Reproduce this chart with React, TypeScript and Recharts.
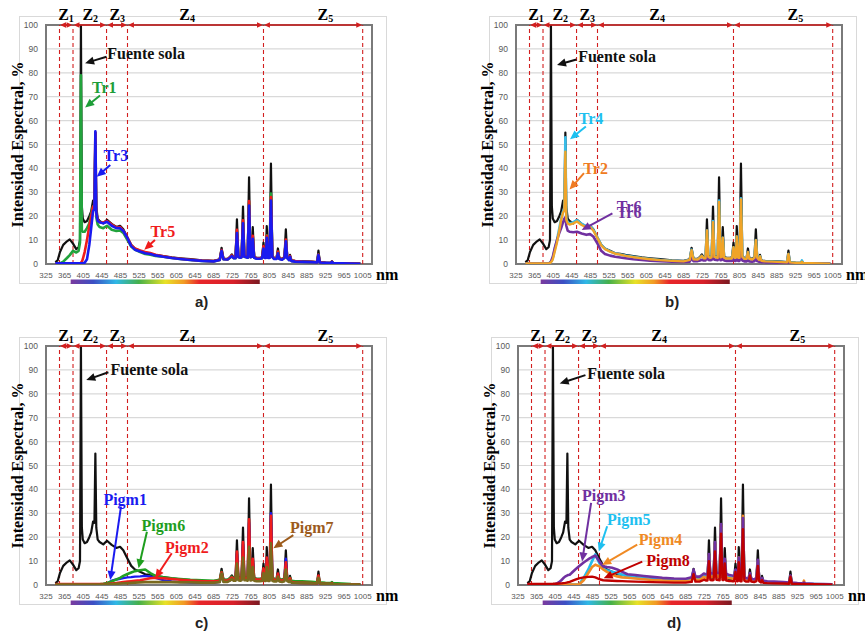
import { LineChart, Line, XAxis, YAxis, CartesianGrid, ReferenceLine, ReferenceDot, ReferenceArea } from 'recharts';

// wavelength grid, nm
const wl = [
  345, 350, 355, 362, 370, 376, 383, 390, 395, 398,
  400, 402, 404, 408, 413, 418, 422, 426, 429, 431,
  433, 436, 440, 448, 456, 466, 476, 484, 491, 500,
  508, 516, 527, 538, 549, 560, 577, 595, 613, 635,
  660, 685, 698, 702, 706, 715, 720, 724, 728, 732,
  735, 738, 742, 745, 748, 751, 755, 758, 761, 764,
  767, 769, 772, 777, 784, 789, 792, 795, 797, 799,
  802, 805, 808, 811, 815, 820, 823, 826, 832, 837,
  840, 843, 847, 849, 852, 860, 875, 895, 907, 910,
  913, 925, 937, 939, 941, 960, 980, 1000,
];

const fuenteSola = [
  0.8, 1.5, 5, 8, 9.5, 10.3, 8.5, 6.2, 7, 10,
  100, 24, 19, 17.5, 18, 20, 22, 26.5, 26, 55,
  24, 19, 18, 17, 18.5, 16.8, 15.5, 16, 14.5, 11,
  8, 6.5, 5.5, 4.5, 4.3, 3.8, 3.3, 2.8, 2.4, 2,
  1.5, 1.3, 2, 6.8, 2.3, 2.2, 3, 4, 2.8, 2.8,
  18.7, 3.5, 3, 3.2, 24, 3.5, 3.2, 3, 36.3, 3.3,
  3.5, 15.4, 3, 2.6, 2.6, 2.8, 8.9, 3, 3, 15.9,
  3, 3, 42, 3.5, 2.5, 2.5, 6.5, 2.5, 2.2, 3,
  14.5, 3, 2, 3.8, 1.5, 1.3, 1.2, 1, 0.8, 5.6,
  0.8, 0.6, 0.5, 1.2, 0.5, 0.4, 0.3, 0.2,
];

const tr1 = [
  0, 0, 0.3, 1, 2.5, 3.7, 5.5, 4.8, 5.5, 9,
  79, 14, 13.5, 13.5, 15, 17, 21, 24, 23.5, 50,
  19.5, 16.5, 15.5, 15, 16, 14.3, 13.8, 14, 13, 10,
  7.3, 6, 5, 4.2, 3.9, 3.4, 3, 2.5, 2.1, 1.7,
  1.3, 1.1, 1.7, 5.5, 2, 1.9, 2.6, 3.4, 2.4, 2.4,
  13.5, 3, 2.6, 2.8, 17.5, 3, 2.8, 2.6, 25.5, 2.8,
  3, 11.5, 2.6, 2.3, 2.3, 2.4, 7, 2.6, 2.6, 12,
  2.6, 2.6, 29.5, 3, 2.2, 2.2, 5, 2.2, 1.9, 2.6,
  9.8, 2.6, 1.7, 3.2, 1.3, 1.1, 1, 0.8, 0.7, 4,
  0.7, 0.5, 0.4, 1, 0.4, 0.3, 0.2, 0.1,
];

const tr5 = [
  0.2, 0.2, 0.2, 0.2, 0.2, 0.2, 0.2, 0.2, 0.2, 0.2,
  0.5, 1, 2, 5, 10, 16, 20, 24, 24, 55,
  21, 18.5, 17.5, 17.3, 18, 16.5, 15.3, 15.5, 14, 11,
  7.8, 6.5, 5.7, 5, 4.6, 3.9, 3.2, 2.6, 2.2, 1.8,
  1.4, 1.2, 1.8, 5.8, 2.1, 2, 2.8, 3.6, 2.6, 2.6,
  14.3, 3.1, 2.8, 3, 18.3, 3.2, 3, 2.8, 26.3, 3,
  3.2, 11.8, 2.8, 2.4, 2.4, 2.6, 7.5, 2.7, 2.7, 11.8,
  2.7, 2.7, 28, 3.1, 2.3, 2.3, 5.2, 2.3, 2, 2.7,
  10.2, 2.7, 1.8, 3.3, 1.4, 1.2, 1, 0.9, 0.7, 4,
  0.7, 0.5, 0.4, 1, 0.4, 0.3, 0.2, 0.1,
];

const tr3 = [
  0.3, 0.3, 0.3, 0.3, 0.3, 0.3, 0.3, 0.3, 0.3, 0.3,
  0.3, 0.3, 0.3, 0.5, 2, 8, 15, 22, 23, 55.5,
  21.5, 18, 17.5, 17, 17.7, 16, 15, 15, 13.8, 10.8,
  7.5, 6, 5.2, 4.5, 4.2, 3.6, 3, 2.5, 2.1, 1.7,
  1.3, 1.1, 1.7, 5.5, 2, 1.9, 2.6, 3.3, 2.4, 2.4,
  13, 2.9, 2.6, 2.8, 17, 3, 2.8, 2.6, 24.5, 2.8,
  3, 10.5, 2.6, 2.2, 2.2, 2.4, 6.5, 2.5, 2.5, 11,
  2.5, 2.5, 26.5, 2.9, 2.1, 2.1, 4.5, 2.1, 1.8, 2.5,
  9.5, 2.5, 1.6, 3, 1.2, 1, 0.9, 0.8, 0.6, 3.8,
  0.6, 0.5, 0.4, 0.9, 0.4, 0.3, 0.2, 0.1,
];

const tr4 = [
  0.3, 0.3, 0.3, 0.3, 0.3, 0.3, 0.3, 0.3, 0.3, 0.5,
  1, 1.5, 2.5, 6, 10, 15, 19, 22, 23, 53,
  19, 17.5, 17, 17.5, 18.3, 16.8, 15.8, 16, 14.3, 11,
  8, 6.4, 5.3, 4.4, 4, 3.5, 3, 2.5, 2.1, 1.7,
  1.3, 1.1, 1.7, 6, 2, 1.9, 2.6, 3.4, 2.4, 2.4,
  14, 3, 2.6, 2.8, 18, 3, 2.8, 2.6, 26.5, 2.8,
  3, 11, 2.6, 2.3, 2.3, 2.4, 7, 2.6, 2.6, 11.5,
  2.6, 2.6, 27.5, 3, 2.2, 2.2, 5, 2.2, 1.9, 2.6,
  10, 2.6, 1.7, 3.2, 1.3, 1.1, 1, 0.8, 0.7, 4.2,
  0.7, 0.5, 0.4, 1.5, 0.4, 0.3, 0.2, 0.1,
];

const tr2 = [
  0.2, 0.2, 0.2, 0.2, 0.2, 0.2, 0.2, 0.2, 0.2, 0.4,
  0.8, 1.2, 2, 5, 9, 14, 18.5, 21.5, 22.5, 47,
  18.5, 17, 16.5, 17, 17.8, 16.3, 15.3, 15.5, 14, 10.8,
  7.8, 6.2, 5.2, 4.3, 3.9, 3.4, 2.9, 2.4, 2, 1.6,
  1.3, 1.1, 1.7, 5.8, 2, 1.9, 2.6, 3.4, 2.4, 2.4,
  14, 3, 2.6, 2.8, 17.5, 3, 2.8, 2.6, 26, 2.8,
  3, 11, 2.6, 2.3, 2.3, 2.4, 7, 2.6, 2.6, 11.5,
  2.6, 2.6, 27, 3, 2.2, 2.2, 5, 2.2, 1.9, 2.6,
  10, 2.6, 1.7, 3.2, 1.3, 1.1, 1, 0.8, 0.7, 4.2,
  0.7, 0.5, 0.4, 0.9, 0.4, 0.3, 0.2, 0.1,
];

const tr6 = [
  0.2, 0.2, 0.2, 0.2, 0.2, 0.2, 0.2, 0.2, 0.2, 0.5,
  1, 2, 3, 6.5, 10, 13, 15, 17.5, 19, 19.5,
  16, 14, 13.5, 13.3, 13.5, 12.8, 12.2, 12.5, 11.5, 8.5,
  5.5, 4.2, 3.5, 3, 2.7, 2.4, 2, 1.7, 1.4, 1.2,
  1, 0.9, 1, 2.5, 1.2, 1.2, 1.5, 1.8, 1.5, 1.5,
  3.5, 1.7, 1.6, 1.7, 4, 1.8, 1.7, 1.6, 5, 1.6,
  1.7, 2.5, 1.5, 1.3, 1.3, 1.3, 2, 1.3, 1.3, 2.5,
  1.3, 1.3, 5, 1.4, 1.1, 1.1, 1.5, 1.1, 1, 1.2,
  2.5, 1.2, 0.9, 1.2, 0.8, 0.7, 0.6, 0.5, 0.4, 1.2,
  0.4, 0.3, 0.3, 0.4, 0.3, 0.2, 0.1, 0.1,
];

const pigm1 = [
  0.3, 0.3, 0.3, 0.3, 0.3, 0.3, 0.3, 0.3, 0.3, 0.3,
  0.3, 0.3, 0.3, 0.3, 0.3, 0.3, 0.3, 0.3, 0.3, 0.3,
  0.3, 0.3, 0.3, 0.3, 0.6, 1.8, 2.3, 2.6, 2.9, 3.2,
  3.3, 3.5, 3.6, 3.8, 3.5, 3, 2, 1.5, 1.2, 1,
  0.9, 0.9, 1.3, 5, 1.5, 1.5, 2, 2.6, 2, 2,
  13, 2.4, 2.2, 2.3, 17, 2.5, 2.4, 2.3, 26, 2.4,
  2.5, 10.5, 2.2, 1.9, 1.9, 2, 6.5, 2.1, 2.1, 11,
  2.1, 2.1, 30, 2.5, 1.8, 1.8, 4.5, 1.8, 1.6, 2.2,
  11, 2.2, 1.4, 2.6, 1.1, 0.9, 0.8, 0.7, 0.5, 3.5,
  0.5, 0.4, 0.3, 0.8, 0.3, 0.2, 0.2, 0.1,
];

const pigm6 = [
  0.3, 0.3, 0.3, 0.3, 0.3, 0.3, 0.3, 0.3, 0.3, 0.3,
  0.3, 0.3, 0.3, 0.3, 0.3, 0.3, 0.3, 0.3, 0.3, 0.3,
  0.3, 0.3, 0.3, 0.5, 0.8, 1.5, 2.3, 3, 3.8, 4.6,
  5.2, 5.8, 6.2, 6.5, 5, 3.8, 3.2, 2.8, 2.5, 2.2,
  2, 1.8, 2.2, 5.5, 2.3, 2.2, 2.8, 3.5, 2.7, 2.7,
  9, 3, 2.8, 3, 12, 3.1, 3, 2.8, 16.5, 3,
  3.2, 8, 2.8, 2.5, 2.5, 2.6, 5.5, 2.7, 2.7, 8,
  2.7, 2.7, 18, 3, 2.4, 2.4, 4, 2.4, 2.2, 2.6,
  7, 2.6, 2, 3, 1.8, 1.6, 1.5, 1.3, 1.1, 3.5,
  1.1, 0.9, 0.8, 1.2, 0.8, 0.6, 0.4, 0.3,
];

const pigm2 = [
  0.4, 0.4, 0.4, 0.4, 0.4, 0.4, 0.4, 0.4, 0.4, 0.4,
  0.4, 0.4, 0.4, 0.4, 0.4, 0.4, 0.4, 0.4, 0.4, 0.4,
  0.4, 0.4, 0.4, 0.4, 0.4, 0.6, 0.8, 1, 1.2, 1.4,
  1.6, 1.8, 2, 2.4, 2.8, 3, 2.8, 2.5, 2.2, 1.9,
  1.6, 1.5, 1.8, 5.3, 1.9, 1.9, 2.4, 3.2, 2.4, 2.4,
  14, 2.8, 2.6, 2.7, 18, 2.9, 2.8, 2.6, 27.5, 2.8,
  3, 11, 2.6, 2.3, 2.3, 2.4, 7, 2.5, 2.5, 11.5,
  2.5, 2.5, 29, 2.8, 2.1, 2.1, 4.8, 2.1, 1.8, 2.4,
  9.5, 2.4, 1.6, 2.8, 1.2, 1, 0.9, 0.8, 0.6, 4,
  0.6, 0.5, 0.4, 0.8, 0.4, 0.3, 0.2, 0.1,
];

const pigm7 = [
  0.2, 0.2, 0.2, 0.2, 0.2, 0.2, 0.2, 0.2, 0.2, 0.2,
  0.2, 0.2, 0.2, 0.2, 0.2, 0.2, 0.2, 0.2, 0.2, 0.2,
  0.2, 0.2, 0.2, 0.2, 0.3, 0.4, 0.5, 0.6, 0.7, 0.8,
  0.9, 1, 1.1, 1.2, 1.2, 1.2, 1.2, 1.2, 1.1, 1.1,
  1, 1, 1.2, 4.8, 1.3, 1.3, 1.8, 2.5, 1.8, 1.8,
  9, 2, 1.8, 2, 11.5, 2, 2, 1.8, 16, 1.9,
  2, 7.5, 1.8, 1.6, 1.6, 1.7, 5, 1.7, 1.7, 7.5,
  1.7, 1.7, 17.5, 1.8, 1.5, 1.5, 3.5, 1.5, 1.3, 1.6,
  6.5, 1.6, 1.2, 2, 1, 0.9, 0.8, 0.7, 0.6, 3,
  0.6, 0.5, 0.4, 0.6, 0.4, 0.3, 0.2, 0.1,
];

const pigm3 = [
  0.3, 0.3, 0.3, 0.3, 0.3, 0.3, 0.3, 0.3, 0.3, 0.3,
  0.3, 0.3, 0.3, 0.6, 1.2, 2, 2.8, 3.5, 3.8, 4,
  4.2, 4.3, 5, 6.5, 7.8, 9.4, 10.8, 11.7, 12.3, 9.8,
  7.8, 7.5, 7.2, 6.5, 5.5, 4.5, 4.2, 3.8, 3.4, 3,
  2.7, 2.6, 3.2, 6.5, 3.5, 3.5, 4.2, 4.8, 4.5, 4.5,
  13, 5, 4.8, 5, 18, 5.2, 5, 5, 25.5, 5,
  5, 11, 4.7, 4.3, 4, 3.8, 6.5, 3.6, 3.5, 11.5,
  3.4, 3.3, 28, 3.5, 2.8, 2.7, 5, 2.6, 2.3, 3,
  10.5, 2.8, 2.1, 3, 1.8, 1.6, 1.4, 1.2, 1, 4,
  1, 0.8, 0.7, 1, 0.7, 0.5, 0.4, 0.3,
];

const pigm5 = [
  0.2, 0.2, 0.2, 0.2, 0.2, 0.2, 0.2, 0.2, 0.2, 0.2,
  0.2, 0.2, 0.2, 0.2, 0.2, 0.2, 0.2, 0.2, 0.2, 0.2,
  0.2, 0.2, 0.2, 0.2, 0.2, 3, 6.5, 10, 12.8, 9,
  6.8, 6.2, 5.5, 5, 4.3, 3.8, 3.2, 2.8, 2.5, 2.2,
  2, 1.9, 2.3, 5.5, 2.6, 2.6, 3.2, 3.8, 3.5, 3.5,
  12, 4, 3.8, 4, 16.5, 4.2, 4, 4, 24, 4,
  4, 10, 3.7, 3.3, 3, 2.8, 6, 2.7, 2.6, 11,
  2.5, 2.5, 27, 2.7, 2.2, 2.1, 4.5, 2, 1.8, 2.4,
  10, 2.2, 1.6, 2.4, 1.4, 1.2, 1, 0.9, 0.7, 3.5,
  0.7, 0.6, 0.5, 0.7, 0.5, 0.4, 0.3, 0.2,
];

const pigm4 = [
  0.2, 0.2, 0.2, 0.2, 0.2, 0.2, 0.2, 0.2, 0.2, 0.2,
  0.2, 0.2, 0.2, 0.2, 0.2, 0.2, 0.2, 0.2, 0.2, 0.2,
  0.2, 0.2, 0.2, 0.2, 0.2, 2, 5, 7.5, 8.5, 7.8,
  6.5, 5.5, 4.3, 3.6, 3.2, 3, 2.7, 2.4, 2.1, 1.9,
  1.7, 1.6, 2, 5, 2.2, 2.2, 2.8, 3.4, 3, 3,
  12.5, 3.5, 3.3, 3.5, 17, 3.6, 3.5, 3.4, 25, 3.4,
  3.5, 10.5, 3.2, 2.9, 2.7, 2.5, 6, 2.4, 2.4, 11.5,
  2.3, 2.3, 29, 2.5, 2, 2, 4.5, 1.9, 1.7, 2.2,
  10, 2, 1.5, 2.3, 1.3, 1.1, 1, 0.8, 0.6, 3.5,
  0.6, 0.5, 0.4, 1.8, 0.4, 0.3, 0.3, 0.2,
];

const pigm8 = [
  0.4, 0.4, 0.4, 0.4, 0.4, 0.4, 0.4, 0.4, 0.4, 0.4,
  0.5, 0.5, 0.5, 0.5, 0.6, 0.7, 0.8, 0.9, 1, 1.1,
  1.2, 1.3, 1.6, 2.2, 2.8, 3.2, 3.4, 3.5, 3.2, 2.4,
  2, 1.9, 1.8, 1.7, 1.6, 1.5, 1.4, 1.3, 1.2, 1.1,
  1, 1, 1.3, 4.5, 1.4, 1.4, 1.8, 2.2, 1.9, 1.9,
  10, 2.1, 2, 2.1, 14, 2.2, 2.1, 2, 21.5, 2.1,
  2.1, 9, 1.9, 1.7, 1.6, 1.6, 5.5, 1.6, 1.6, 9.5,
  1.6, 1.6, 23.3, 1.8, 1.4, 1.4, 4, 1.4, 1.2, 1.6,
  8, 1.6, 1.1, 2, 0.9, 0.8, 0.7, 0.6, 0.5, 3.5,
  0.5, 0.4, 0.3, 0.5, 0.3, 0.3, 0.2, 0.1,
];

const xTicks = [325, 365, 405, 445, 485, 525, 565, 605, 645, 685, 725, 765, 805, 845, 885, 925, 965, 1005];
const yTicks = [0, 10, 20, 30, 40, 50, 60, 70, 80, 90, 100];

// zone limits (nm) and Z label centres
const zoneEdges = [354, 383, 455, 500, 792, 1005];
const zoneLabelX = [368, 420, 478, 628, 925];
// visible band under the axis
const visibleBand = [378, 784];

const rainbow = [
  ['0', '#7a3a9e'], ['0.12', '#3c4fc4'], ['0.24', '#2fb8e6'], ['0.36', '#45b04a'],
  ['0.5', '#e8e226'], ['0.6', '#f29a24'], ['0.68', '#e8262a'], ['0.86', '#d8202a'], ['1', '#7a1a22'],
];

type Serie = { key: string; values: number[]; color: string; width: number };
type Note = { text: string; color: string; at: [number, number]; from: [number, number]; to: [number, number]; twice?: boolean };

const SERIF = '"Liberation Serif", "Times New Roman", serif';
const SANS = '"Liberation Sans", Arial, sans-serif';
const ZRED = '#d21f1f';

function Arrow({ x1, y1, x2, y2, color, lw, head, both }: any) {
  const dx = x2 - x1;
  const dy = y2 - y1;
  const len = Math.hypot(dx, dy) || 1;
  const ux = dx / len;
  const uy = dy / len;
  const w = head * 0.45;
  const tri = (x: number, y: number, d: number) =>
    `${x},${y} ${x - d * ux * head - uy * w},${y - d * uy * head + ux * w} ${x - d * ux * head + uy * w},${y - d * uy * head - ux * w}`;
  const sx = both ? x1 + ux * head * 0.8 : x1;
  const sy = both ? y1 + uy * head * 0.8 : y1;
  return (
    <g>
      <line x1={sx} y1={sy} x2={x2 - ux * head * 0.8} y2={y2 - uy * head * 0.8} stroke={color} strokeWidth={lw} />
      <polygon points={tri(x2, y2, 1)} fill={color} />
      {both && <polygon points={tri(x1, y1, -1)} fill={color} />}
    </g>
  );
}

function Panel({ id, left, top, letter, series, notes }: { id: string; left: number; top: number; letter: string; series: Serie[]; notes: Note[] }) {
  const rows = wl.map((nm, i) => {
    const r: any = { nm };
    series.forEach((s) => (r[s.key] = s.values[i]));
    return r;
  });
  return (
    <div style={{ position: 'absolute', left, top, width: 405, height: 312 }}>
      <div style={{ position: 'absolute', left: 19, top: 16, width: 368, height: 268, border: '1px solid #d9d9d9', boxSizing: 'border-box' }} />
      <div style={{ position: 'absolute', left: 0, top: 0 }}>
        <LineChart width={405} height={300} data={rows} margin={{ top: 25, right: 33, bottom: 16, left: 16 }}>
          <defs>
            <linearGradient id={`band-${id}`} x1="0" y1="0" x2="1" y2="0">
              {rainbow.map(([o, c]) => (
                <stop key={o} offset={o} stopColor={c} />
              ))}
            </linearGradient>
          </defs>
          <CartesianGrid vertical={false} stroke="#d9d9d9" strokeWidth={1.2} />
          <XAxis
            type="number"
            dataKey="nm"
            domain={[325, 1025]}
            ticks={xTicks}
            allowDataOverflow
            interval={0}
            height={20}
            axisLine={false}
            tickLine={false}
            tick={{ fontSize: 8, fill: '#595959', fontFamily: SANS }}
            label={{ value: 'nm', position: 'right', offset: 4, style: { fontFamily: SERIF, fontWeight: 'bold', fontSize: 16, fill: '#000' } }}
          />
          <YAxis
            domain={[0, 100]}
            ticks={yTicks}
            allowDataOverflow
            width={30}
            axisLine={false}
            tickLine={false}
            tick={{ fontSize: 8.5, fill: '#595959', fontFamily: SANS }}
            label={{
              value: 'Intensidad  Espectral, %',
              angle: -90,
              position: 'insideLeft',
              offset: 1,
              style: { textAnchor: 'middle', fontFamily: SERIF, fontWeight: 'bold', fontSize: 16, fill: '#000', whiteSpace: 'pre' },
            }}
          />
          <ReferenceArea x1={325} x2={1025} y1={0} y2={100} fill="none" fillOpacity={0} stroke="#7a7a7a" strokeWidth={2} ifOverflow="visible" />
          <ReferenceArea
            x1={visibleBand[0]}
            x2={visibleBand[1]}
            y1={-6.5}
            y2={-8.4}
            fill={`url(#band-${id})`}
            fillOpacity={1}
            stroke="none"
            ifOverflow="visible"
          />
          {zoneEdges.map((z) => (
            <ReferenceLine key={`zl${z}`} x={z} stroke={ZRED} strokeWidth={1.1} strokeDasharray="4 3" />
          ))}
          {series.map((s) => (
            <Line
              key={s.key}
              type="linear"
              dataKey={s.key}
              stroke={s.color}
              strokeWidth={s.width}
              dot={false}
              isAnimationActive={false}
              strokeLinejoin="round"
            />
          ))}
          {zoneEdges.slice(0, -1).map((z, i) => (
            <ReferenceLine
              key={`za${z}`}
              segment={[{ x: z + 1, y: 100 }, { x: zoneEdges[i + 1] - 1, y: 100 }]}
              ifOverflow="visible"
              shape={(p: any) => <Arrow x1={p.x1} y1={p.y1} x2={p.x2} y2={p.y2} color={ZRED} lw={1.6} head={6} both />}
            />
          ))}
          {zoneLabelX.map((zx, i) => (
            <ReferenceDot
              key={`zt${i}`}
              x={zx}
              y={102}
              ifOverflow="visible"
              shape={(p: any) => (
                <text x={p.cx} y={p.cy} textAnchor="middle" fontFamily={SERIF} fontWeight="bold" fontSize={16} fill="#000">
                  Z<tspan fontSize={10} dy={2}>{i + 1}</tspan>
                </text>
              )}
            />
          ))}
          {notes.map((n, i) => (
            <ReferenceLine
              key={`na${i}`}
              segment={[{ x: n.from[0], y: n.from[1] }, { x: n.to[0], y: n.to[1] }]}
              ifOverflow="visible"
              shape={(p: any) => <Arrow x1={p.x1} y1={p.y1} x2={p.x2} y2={p.y2} color={n.color} lw={2} head={9} />}
            />
          ))}
          {notes.map((n, i) => (
            <ReferenceDot
              key={`nt${i}`}
              x={n.at[0]}
              y={n.at[1]}
              ifOverflow="visible"
              shape={(p: any) => (
                <g>
                  {n.twice && (
                    <text x={p.cx} y={p.cy - 6} textAnchor="middle" dominantBaseline="central" fontFamily={SERIF} fontWeight="bold" fontSize={16} fill={n.color}>
                      {n.text}
                    </text>
                  )}
                  <text x={p.cx} y={p.cy} textAnchor="middle" dominantBaseline="central" fontFamily={SERIF} fontWeight="bold" fontSize={16} fill={n.color}>
                    {n.text}
                  </text>
                </g>
              )}
            />
          ))}
        </LineChart>
      </div>
      <div style={{ position: 'absolute', left: 195, top: 293, fontFamily: SANS, fontWeight: 'bold', fontSize: 15, lineHeight: '17px', color: '#222' }}>
        {letter}
      </div>
    </div>
  );
}

const BLACK: Serie = { key: 'fuente', values: fuenteSola, color: '#111', width: 2.2 };

const seriesA: Serie[] = [
  BLACK,
  { key: 'tr1', values: tr1, color: '#22a33c', width: 2.6 },
  { key: 'tr5', values: tr5, color: '#f01c1c', width: 2.6 },
  { key: 'tr3', values: tr3, color: '#1a1af0', width: 2.6 },
];
const seriesB: Serie[] = [
  BLACK,
  { key: 'tr4', values: tr4, color: '#38bce8', width: 2.6 },
  { key: 'tr6', values: tr6, color: '#7030a0', width: 2.6 },
  { key: 'tr2', values: tr2, color: '#f0a428', width: 2.4 },
];
const seriesC: Serie[] = [
  BLACK,
  { key: 'pigm1', values: pigm1, color: '#1a1af0', width: 2.4 },
  { key: 'pigm6', values: pigm6, color: '#22a024', width: 2.6 },
  { key: 'pigm2', values: pigm2, color: '#f01c1c', width: 2.6 },
  { key: 'pigm7', values: pigm7, color: '#7a6a1e', width: 2.6 },
];
const seriesD: Serie[] = [
  BLACK,
  { key: 'pigm5', values: pigm5, color: '#22bcec', width: 2.6 },
  { key: 'pigm4', values: pigm4, color: '#f08a24', width: 2.6 },
  { key: 'pigm3', values: pigm3, color: '#7030a0', width: 2.6 },
  { key: 'pigm8', values: pigm8, color: '#c00000', width: 2.4 },
];

const notesA: Note[] = [
  { text: 'Fuente sola', color: '#111', at: [540, 88], from: [455, 86.7], to: [409, 84] },
  { text: 'Tr1', color: '#1e9e38', at: [450, 74], from: [441, 70.5], to: [409, 65.5] },
  { text: 'Tr3', color: '#1a1af0', at: [475, 45.5], from: [463, 41.4], to: [434, 36.5] },
  { text: 'Tr5', color: '#f01c1c', at: [576, 13.5], from: [559, 10], to: [536, 6] },
];
const notesB: Note[] = [
  { text: 'Fuente sola', color: '#111', at: [542, 87], from: [455, 85.6], to: [413, 83.3] },
  { text: 'Tr4', color: '#1ec0f0', at: [486, 61], from: [475, 57.5], to: [441, 52.2] },
  { text: 'Tr2', color: '#ef7b22', at: [496, 40], from: [471, 38], to: [440, 31.2] },
  { text: 'Tr6', color: '#7030a0', at: [568, 21.6], from: [532, 21.2], to: [466, 14.2], twice: true },
];
const notesC: Note[] = [
  { text: 'Fuente sola', color: '#111', at: [547, 90], from: [459, 89], to: [411.5, 85.8] },
  { text: 'Pigm1', color: '#1a1af0', at: [495, 35.6], from: [486, 32.8], to: [463, 2.1] },
  { text: 'Pigm6', color: '#1e9e1e', at: [577, 25], from: [541.7, 22.3], to: [523.7, 7] },
  { text: 'Pigm2', color: '#f01c1c', at: [627.5, 15.6], from: [595, 13.3], to: [559.5, 2.8] },
  { text: 'Pigm7', color: '#9c5b1c', at: [895.7, 24.1], from: [856, 20.9], to: [813.3, 15.4] },
];
const notesD: Note[] = [
  { text: 'Fuente sola', color: '#111', at: [557.4, 88.5], from: [469.8, 87.8], to: [414.5, 84.3] },
  { text: 'Pigm3', color: '#7030a0', at: [509, 37.5], from: [482, 34.4], to: [462.7, 9.8] },
  { text: 'Pigm5', color: '#1ec0f0', at: [563, 27.4], from: [516.5, 24.6], to: [498.5, 14] },
  { text: 'Pigm4', color: '#f08a24', at: [631, 19.2], from: [581, 16.9], to: [505.8, 8.4] },
  { text: 'Pigm8', color: '#c00000', at: [647, 10.1], from: [591.8, 9.8], to: [509, 2.8] },
];

export default function App() {
  return (
    <div style={{ position: 'relative', width: 865, height: 632, overflow: 'hidden', background: '#fff' }}>
      <style>{`body { margin: 0; }`}</style>
      <Panel id="a" left={0} top={0} letter="a)" series={seriesA} notes={notesA} />
      <Panel id="b" left={470} top={0} letter="b)" series={seriesB} notes={notesB} />
      <Panel id="c" left={0} top={321} letter="c)" series={seriesC} notes={notesC} />
      <Panel id="d" left={472} top={321} letter="d)" series={seriesD} notes={notesD} />
    </div>
  );
}
